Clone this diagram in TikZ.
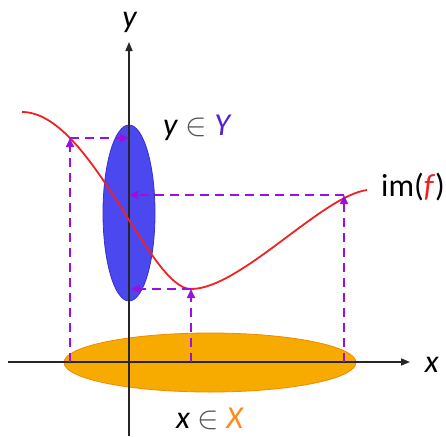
\documentclass[tikz,border=0pt]{standalone}
\usepackage{fontspec}
\usepackage{graphicx}
\setmainfont{Carlito}
\usetikzlibrary{arrows.meta}
\definecolor{blueset}{HTML}{4B48F0}
\definecolor{blueedge}{HTML}{3A2FC8}
\definecolor{orangeset}{HTML}{F7AA00}
\definecolor{orangeedge}{HTML}{F08A00}
\definecolor{curvered}{HTML}{EE2222}
\definecolor{dashpurple}{HTML}{9A10DC}
\definecolor{Ycol}{HTML}{5522D8}
\definecolor{Xcol}{HTML}{FF8A1A}
\definecolor{incol}{HTML}{555555}
\newcommand{\elem}{{\color{incol}\raisebox{0.5pt}{\scalebox{1.3}{$\in$}}}}
\tikzset{
  axis/.style={line width=1.5pt, black!85, -{Triangle[length=9pt,width=7pt]}},
  mapline/.style={dashpurple, line width=1.7pt, dash pattern=on 9pt off 6pt, -{Triangle[length=9pt,width=8pt]}},
  lbl/.style={font=\fontsize{32}{34}\selectfont, inner sep=0pt},
}
\begin{document}
\begin{tikzpicture}[x=1pt,y=-1pt]
\useasboundingbox (0,0) rectangle (446,436);
% sets
\fill[orangeset, draw=orangeedge, line width=0.8pt] (210,362.5) ellipse [x radius=146, y radius=29.5];
\fill[blueset, draw=blueedge, line width=0.8pt] (129,213) ellipse [x radius=26, y radius=88];
% axes
\coordinate (xs) at (8,362);
\coordinate (xe) at (410,362);
\coordinate (ys) at (129,436);
\coordinate (ye) at (129,42);
\draw[axis] (xs) -- (xe);
\draw[axis] (ys) -- (ye);
% curve
\draw[curvered, line width=1.8pt] (22,112) .. controls (90.7,112) and (149.2,289) .. (191,289)
   .. controls (240,289) and (322,196) .. (367,190);
% points
\coordinate (a0) at (70,362);
\coordinate (a1) at (70,138);
\coordinate (a2) at (129,138);
\coordinate (b0) at (191,362);
\coordinate (b1) at (191,289);
\coordinate (b2) at (131,289);
\coordinate (c0) at (344,362);
\coordinate (c1) at (344,195);
\coordinate (c2) at (129,195);
\draw[mapline] (a0) -- (a1);
\draw[mapline] (a1) -- (a2);
\draw[mapline] (b0) -- (b1);
\draw[mapline] (b1) -- (b2);
\draw[mapline] (c0) -- (c1);
\draw[mapline] (c1) -- (c2);
% labels
\node[lbl] (ylab) at (130,22) {\textit{y}};
\node[lbl] (xlab) at (432,365) {\textit{x}};
\node[lbl, anchor=west] (Ylab) at (163,128) {\textit{y} \elem{} \textcolor{Ycol}{\textit{Y}}};
\node[lbl, anchor=west] (imlab) at (381,187) {im(\textcolor{curvered}{\textit{f}})};
\node[lbl, anchor=west] (Xlab) at (176,419) {\textit{x} \elem{} \textcolor{Xcol}{\textit{X}}};
\end{tikzpicture}
\end{document}
